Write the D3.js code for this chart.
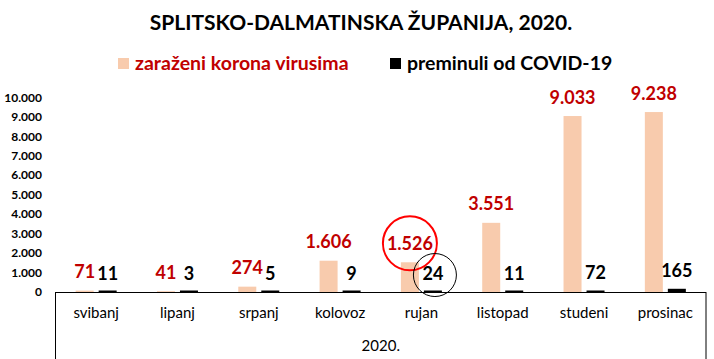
<!DOCTYPE html>
<html>
<head>
<meta charset="utf-8">
<script src="https://cdn.jsdelivr.net/npm/d3@7"></script>
<style>
  html, body { margin: 0; padding: 0; background: #fff; }
  svg { display: block; font-family: Lato, "Open Sans", "DejaVu Sans", sans-serif; }
</style>
</head>
<body>
<svg id="chart" width="714" height="359"></svg>
<script>
const categories = ["svibanj", "lipanj", "srpanj", "kolovoz", "rujan", "listopad", "studeni", "prosinac"];
const infected = [71, 41, 274, 1606, 1526, 3551, 9033, 9238];
const deaths = [11, 3, 5, 9, 24, 11, 72, 165];
const seriesNames = ["zaraženi korona virusima", "preminuli od COVID-19"];
const yTicks = [0, 1000, 2000, 3000, 4000, 5000, 6000, 7000, 8000, 9000, 10000];
const yearLabel = "2020.";
const titleText = "SPLITSKO-DALMATINSKA ŽUPANIJA, 2020.";
const highlightCategory = "rujan";

(function () {
const W = 714, H = 359;
const pLeft = 55.5, pRight = 706, pTop = 97.2, pBottom = 292;
const colInf = "#F8CBAD", colDeath = "#000000", colRed = "#C00000";

const locale = d3.formatLocale({decimal: ",", thousands: ".", grouping: [3], currency: ["", ""]});
const fmt = locale.format(",d");

const svg = d3.select("#chart");

const x = d3.scaleBand().domain(categories).range([pLeft, pRight]).padding(0);
const xs = d3.scaleBand().domain(seriesNames).range([0, x.bandwidth()])
  .paddingInner(5 / 23).paddingOuter(0.876);
const y = d3.scaleLinear().domain([0, 10000]).range([pBottom, pTop]);

// Title
svg.append("text").attr("x", 361).attr("y", 30).attr("text-anchor", "middle")
  .attr("font-size", 21).attr("font-weight", "bold").attr("fill", "#000").text(titleText);

// Legend
const lg = svg.append("g");
lg.append("rect").attr("x", 118).attr("y", 58).attr("width", 11).attr("height", 11).attr("fill", colInf);
lg.append("text").attr("x", 135).attr("y", 69.5).attr("font-size", 19.5).attr("font-weight", "bold")
  .attr("fill", colRed).text(seriesNames[0]);
lg.append("rect").attr("x", 390).attr("y", 58).attr("width", 11).attr("height", 11).attr("fill", colDeath);
lg.append("text").attr("x", 407).attr("y", 69.5).attr("font-size", 19.5).attr("font-weight", "bold")
  .attr("fill", "#000").text(seriesNames[1]);

// Y axis
const yAxis = d3.axisLeft(y).tickValues(yTicks).tickFormat(fmt).tickSize(0).tickPadding(0);
const yg = svg.append("g").attr("transform", `translate(42,0)`).call(yAxis);
yg.select(".domain").remove();
yg.selectAll("text").attr("font-size", 12).attr("font-weight", "bold").attr("fill", "#000")
  .attr("font-family", "Lato, sans-serif");

// Bars
const data = categories.map((c, i) => ({c, inf: infected[i], dth: deaths[i]}));
const g = svg.append("g");
g.selectAll("rect.inf").data(data).join("rect").attr("class", "inf")
  .attr("x", d => x(d.c) + xs(seriesNames[0])).attr("width", xs.bandwidth())
  .attr("y", d => y(d.inf)).attr("height", d => pBottom - y(d.inf)).attr("fill", colInf);
g.selectAll("rect.dth").data(data).join("rect").attr("class", "dth")
  .attr("x", d => x(d.c) + xs(seriesNames[1])).attr("width", xs.bandwidth())
  .attr("y", d => Math.min(y(d.dth), pBottom - 1.5))
  .attr("height", d => pBottom - Math.min(y(d.dth), pBottom - 1.5)).attr("fill", colDeath);

// Labels
g.selectAll("text.linf").data(data).join("text").attr("class", "linf")
  .attr("x", d => x(d.c) + xs(seriesNames[0]) + xs.bandwidth() / 2)
  .attr("y", d => y(d.inf) - 12.5).attr("text-anchor", "middle")
  .attr("font-size", 18).attr("font-weight", "bold").attr("fill", colRed).text(d => fmt(d.inf));
g.selectAll("text.ldth").data(data).join("text").attr("class", "ldth")
  .attr("x", d => x(d.c) + xs(seriesNames[1]) + xs.bandwidth() / 2)
  .attr("y", d => y(d.dth) - 12).attr("text-anchor", "middle")
  .attr("font-size", 18).attr("font-weight", "bold").attr("fill", "#000").text(d => fmt(d.dth));

// Highlight circles around rujan labels
const hd = data.find(d => d.c === highlightCategory);
svg.append("circle")
  .attr("cx", x(hd.c) + xs(seriesNames[0]) + xs.bandwidth() / 2)
  .attr("cy", y(hd.inf) - 12.5 - 6.5).attr("r", 27)
  .attr("fill", "none").attr("stroke", "#FF0000").attr("stroke-width", 2);
svg.append("circle")
  .attr("cx", x(hd.c) + xs(seriesNames[1]) + xs.bandwidth() / 2 + 2)
  .attr("cy", y(hd.dth) - 12 - 4.5).attr("r", 21.5)
  .attr("fill", "none").attr("stroke", "#000").attr("stroke-width", 1);

// X axis line + box
svg.append("line").attr("x1", pLeft).attr("x2", pRight).attr("y1", pBottom + 0.5).attr("y2", pBottom + 0.5)
  .attr("stroke", "#000").attr("stroke-width", 1);
svg.append("line").attr("x1", pLeft).attr("x2", pLeft).attr("y1", pBottom).attr("y2", H)
  .attr("stroke", "#000").attr("stroke-width", 1);
svg.append("line").attr("x1", pRight).attr("x2", pRight).attr("y1", pBottom).attr("y2", H)
  .attr("stroke", "#000").attr("stroke-width", 1);

// Category labels
const xAxis = d3.axisBottom(x).tickSize(0).tickPadding(0);
const xg = svg.append("g").attr("transform", `translate(0,${pBottom})`).call(xAxis);
xg.select(".domain").remove();
xg.selectAll("text").attr("dy", null).attr("y", 26).attr("font-size", 15)
  .attr("fill", "#000").attr("font-family", "Lato, sans-serif");

svg.append("text").attr("x", (pLeft + pRight) / 2).attr("y", 351).attr("text-anchor", "middle")
  .attr("font-size", 15).attr("fill", "#000").text(yearLabel);
})();
</script>
</body>
</html>
